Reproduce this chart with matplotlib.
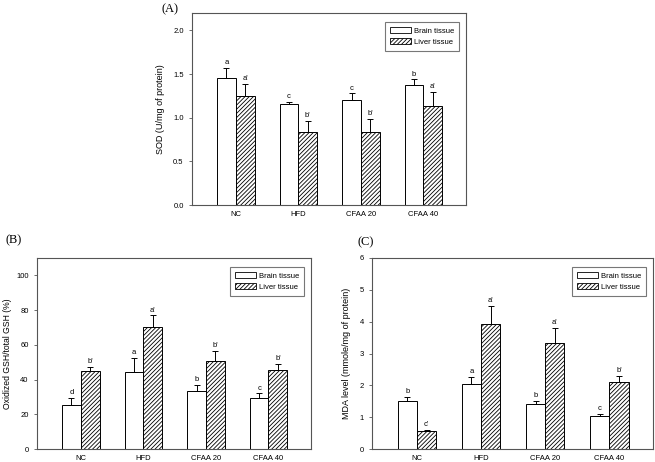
import numpy as np
import matplotlib

matplotlib.use("Agg")
import matplotlib.pyplot as plt
from matplotlib.patches import Patch

plt.rcParams["font.family"] = ["Liberation Sans", "DejaVu Sans"]
plt.rcParams["hatch.linewidth"] = 0.6
plt.rcParams["hatch.color"] = "#333333"

GROUPS = ["NC", "HFD", "CFAA 20", "CFAA 40"]

# (A) SOD
sod_brain = [1.46, 1.16, 1.20, 1.38]
sod_brain_err = [0.11, 0.02, 0.08, 0.06]
sod_liver = [1.25, 0.84, 0.84, 1.14]
sod_liver_err = [0.14, 0.12, 0.15, 0.16]
sod_brain_lbl = ["a", "c", "c", "b"]
sod_liver_lbl = ["a'", "b'", "b'", "a'"]

# (B) oxidized GSH / total GSH
gsh_brain = [25.5, 44.5, 33.5, 29.5]
gsh_brain_err = [4.0, 8.0, 3.5, 2.5]
gsh_liver = [45.0, 70.5, 50.5, 45.5]
gsh_liver_err = [2.5, 6.5, 6.0, 3.5]
gsh_brain_lbl = ["d", "a", "b", "c"]
gsh_liver_lbl = ["b'", "a'", "b'", "b'"]

# (C) MDA
mda_brain = [1.52, 2.05, 1.40, 1.05]
mda_brain_err = [0.12, 0.22, 0.12, 0.05]
mda_liver = [0.56, 3.93, 3.32, 2.12]
mda_liver_err = [0.05, 0.55, 0.48, 0.17]
mda_brain_lbl = ["b", "a", "b", "c"]
mda_liver_lbl = ["c'", "a'", "a'", "b'"]

W = 0.3
SPINE = "#555555"


def panel(ax, brain, berr, liver, lerr, blbl, llbl, ylim, yticks, fmt,
          ylabel, pad, ylfs=6.5, ylpad=6):
    x = np.arange(1, len(GROUPS) + 1)
    ax.bar(x - W / 2, brain, W, color="white", edgecolor="black", lw=0.7)
    ax.bar(x + W / 2, liver, W, color="white", edgecolor="black", lw=0.7,
           hatch="////////")
    ax.errorbar(x - W / 2, brain, yerr=[np.zeros(4), berr], fmt="none",
                ecolor="black", elinewidth=0.7, capsize=2.2, capthick=0.7)
    ax.errorbar(x + W / 2, liver, yerr=[np.zeros(4), lerr], fmt="none",
                ecolor="black", elinewidth=0.7, capsize=2.2, capthick=0.7)
    for xi, v, e, t in zip(x - W / 2, brain, berr, blbl):
        ax.text(xi, v + e + pad, t, ha="center", va="bottom", fontsize=5.5)
    for xi, v, e, t in zip(x + W / 2, liver, lerr, llbl):
        ax.text(xi, v + e + pad, t, ha="center", va="bottom", fontsize=5.5)
    ax.set_xlim(0.3, 4.68)
    ax.set_ylim(*ylim)
    ax.set_yticks(yticks)
    ax.set_yticklabels([fmt % t for t in yticks])
    ax.set_xticks(x)
    ax.set_xticklabels(GROUPS)
    ax.tick_params(axis="x", length=0, labelsize=5.5, pad=4)
    ax.tick_params(axis="y", length=2.5, width=0.6, labelsize=5.5,
                   color=SPINE)
    for s in ax.spines.values():
        s.set_color(SPINE)
        s.set_linewidth(0.8)
    ax.set_ylabel(ylabel, fontsize=ylfs, labelpad=ylpad)
    handles = [Patch(facecolor="white", edgecolor="black", lw=0.6,
                     label="Brain tissue"),
               Patch(facecolor="white", edgecolor="black", lw=0.6,
                     hatch="////////", label="Liver tissue")]
    leg = ax.legend(handles=handles, loc="upper right", fontsize=5.5,
                    fancybox=False, handlelength=2.7, handleheight=0.8,
                    borderpad=0.7, labelspacing=0.45, handletextpad=0.4,
                    bbox_to_anchor=(0.99, 0.975))
    leg.get_frame().set_edgecolor(SPINE)
    leg.get_frame().set_linewidth(0.8)


fig = plt.figure(figsize=(6.55, 4.62), dpi=100)

axA = fig.add_axes([192 / 655, 1 - 205 / 462, 274 / 655, 192 / 462])
panel(axA, sod_brain, sod_brain_err, sod_liver, sod_liver_err,
      sod_brain_lbl, sod_liver_lbl, (0, 2.2), [0, 0.5, 1.0, 1.5, 2.0],
      "%.1f", "SOD (U/mg of protein)", 0.02)

axB = fig.add_axes([37 / 655, 1 - 449 / 462, 274 / 655, 191 / 462])
panel(axB, gsh_brain, gsh_brain_err, gsh_liver, gsh_liver_err,
      gsh_brain_lbl, gsh_liver_lbl, (0, 110), [0, 20, 40, 60, 80, 100],
      "%d", "Oxidized GSH/total GSH (%)", 1.0, ylfs=6.2, ylpad=3)

axC = fig.add_axes([372 / 655, 1 - 449 / 462, 281 / 655, 191 / 462])
panel(axC, mda_brain, mda_brain_err, mda_liver, mda_liver_err,
      mda_brain_lbl, mda_liver_lbl, (0, 6), [0, 1, 2, 3, 4, 5, 6],
      "%d", "MDA level (mmole/mg of protein)", 0.06)

serif = ["Liberation Serif", "DejaVu Serif"]
fig.text(162 / 655, 1 - 9 / 462, "(A)", family=serif, fontsize=9,
         va="center")
fig.text(5 / 655, 1 - 240 / 462, "(B)", family=serif, fontsize=9,
         va="center")
fig.text(358 / 655, 1 - 242 / 462, "(C)", family=serif, fontsize=9,
         va="center")

fig.savefig("out.png", dpi=100)
